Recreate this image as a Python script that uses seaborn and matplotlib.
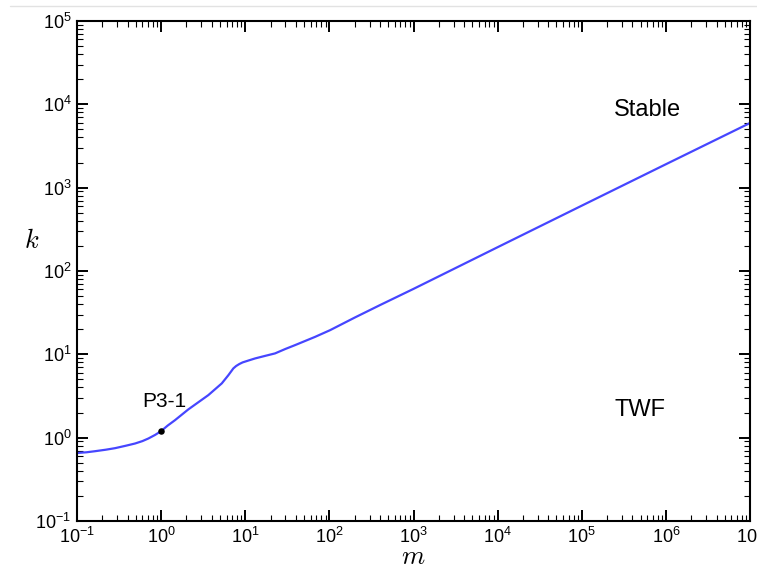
import numpy as np
import pandas as pd
import matplotlib
matplotlib.use("Agg")
import matplotlib.pyplot as plt
from matplotlib.ticker import LogLocator, NullFormatter
from matplotlib.lines import Line2D
import seaborn as sns

# ---- data ----
m_vals = [0.1, 0.13, 0.164, 0.22, 0.283, 0.38, 0.49, 0.6, 0.705, 0.85, 1.0, 1.2,
          1.46, 2.1, 3.64, 5.26, 6.3, 7.22, 7.8, 8.5, 9.3, 11.0, 13.1, 17.0, 22.6,
          30.0, 39.1, 67.6, 102.0, 200.0, 400.0, 1e3, 1e4, 1e5, 1e6, 1e7]
k_vals = [0.655, 0.668, 0.688, 0.717, 0.748, 0.80, 0.851, 0.91, 0.977, 1.08, 1.2, 1.40,
          1.62, 2.18, 3.24, 4.48, 5.62, 6.78, 7.25, 7.65, 8.0, 8.45, 8.93, 9.55, 10.26,
          11.6, 12.9, 16.2, 19.5, 27.6, 39.0, 61.0, 193.0, 608.0, 1910.0, 5970.0]
p31_m = [1.0]
p31_k = [1.2]
region_labels = ["Stable", "TWF"]
point_label = "P3-1"

sns.set_style("ticks")
plt.rcParams["font.family"] = ["Liberation Sans", "DejaVu Sans"]
plt.rcParams["mathtext.fontset"] = "cm"
plt.rcParams["text.color"] = "black"
plt.rcParams["axes.labelcolor"] = "black"
plt.rcParams["xtick.color"] = "black"
plt.rcParams["ytick.color"] = "black"

fig = plt.figure(figsize=(7.57, 5.78), dpi=100)
W, H = 757, 578
ax = fig.add_axes([77 / W, 1 - 521 / H, (750 - 77) / W, (521 - 21) / H])

df = pd.DataFrame({"m": m_vals, "k": k_vals})
sns.lineplot(data=df, x="m", y="k", ax=ax, color="#4646ff", lw=1.6,
             estimator=None, sort=False)
sns.scatterplot(x=p31_m, y=p31_k, ax=ax, color="black", s=22, edgecolor="black",
                linewidth=0, zorder=5)

ax.set_xscale("log")
ax.set_yscale("log")
ax.set_xlim(1e-1, 1e7)
ax.set_ylim(1e-1, 1e5)

for axis in (ax.xaxis, ax.yaxis):
    axis.set_major_locator(LogLocator(base=10, numticks=20))
    axis.set_minor_locator(LogLocator(base=10, subs=np.arange(2, 10), numticks=200))
    axis.set_minor_formatter(NullFormatter())

ax.tick_params(which="both", direction="in", top=True, right=True,
               colors="black", labelcolor="black")
ax.tick_params(which="major", length=8, width=1.4, labelsize=13, pad=4)
ax.tick_params(which="minor", length=4, width=0.8)
for sp in ax.spines.values():
    sp.set_linewidth(1.5)
    sp.set_color("black")
    sp.set_visible(True)

ax.set_xlabel("$m$", fontsize=19)
ax.xaxis.set_label_coords(0.5, -(556.7 - 521) / 500)
ax.xaxis.label.set_va("center")
ax.set_ylabel("$k$", fontsize=19, rotation=0)
ax.yaxis.set_label_coords(-(77 - 32) / 673, (521 - 241) / 500)
ax.yaxis.label.set_va("center")
ax.yaxis.label.set_ha("center")

ax.text(0.848, 0.823, region_labels[0], transform=ax.transAxes, fontsize=17,
        ha="center", va="center", color="black")
ax.text(0.836, 0.223, region_labels[1], transform=ax.transAxes, fontsize=17,
        ha="center", va="center", color="black")
ax.text(0.130, 0.239, point_label, transform=ax.transAxes, fontsize=15,
        ha="center", va="center", color="black")

fig.add_artist(Line2D([10 / W, 1.0], [1 - 6 / H, 1 - 6 / H], color="#e2e2e2",
                      lw=1.0, transform=fig.transFigure))

fig.savefig("out.png", dpi=100)
